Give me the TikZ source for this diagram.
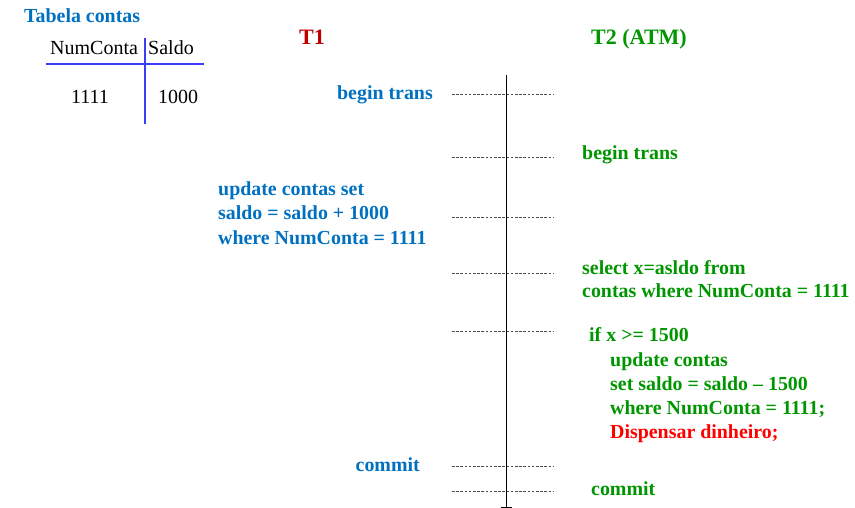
\documentclass[tikz,border=0pt]{standalone}
\usepackage{fontspec}
\setmainfont{Liberation Serif}
\definecolor{tblue}{RGB}{0,112,192}
\definecolor{tgreen}{RGB}{0,150,0}
\definecolor{tred}{RGB}{192,0,0}
\definecolor{dred}{RGB}{255,0,0}
\definecolor{lineblue}{RGB}{60,60,255}
\begin{document}
\begin{tikzpicture}[x=1pt,y=-1pt,
  txt/.style={inner sep=0pt,font=\fontsize{19.9}{24}\selectfont\bfseries},
  bl/.style={txt,text=tblue},
  gr/.style={txt,text=tgreen},
  tbl/.style={inner sep=0pt,font=\fontsize{20}{24}\selectfont},
  title/.style={inner sep=0pt,font=\fontsize{22}{26}\selectfont\bfseries},
  dashline/.style={draw=black!70,dash pattern=on 2.6pt off 1.6pt,line width=0.9pt}]
\useasboundingbox (0,0) rectangle (855,508);
% table
\node[bl,anchor=base west] (tab) at (24,23) {Tabela contas};
\node[tbl,anchor=base west] (h1) at (50,55) {NumConta};
\node[tbl,anchor=base west] (h2) at (148,55) {Saldo};
\node[tbl,anchor=base] (v1) at (90,104) {1111};
\node[tbl,anchor=base] (v2) at (178,104) {1000};
\coordinate (hl) at (46,64); \coordinate (hr) at (204,64);
\coordinate (vt) at (145,38); \coordinate (vb) at (145,124);
\draw[lineblue,line width=1.1pt] (hl) -- (hr);
\draw[lineblue,line width=1.1pt] (vt) -- (vb);
% titles
\node[title,text=tred,anchor=base] (t1) at (312,45) {T1};
\node[title,text=tgreen,anchor=base] (t2) at (639,45) {T2 (ATM)};
% timeline
\coordinate (top) at (506,75); \coordinate (bot) at (506,507);
\coordinate (bl1) at (501,507); \coordinate (br1) at (512,507);
\draw[line width=1pt] (top) -- (bot);
\draw[line width=1pt] (bl1) -- (br1);
\foreach \y/\n in {94/a,157/b,217/c,273/d,331/e,466/f,491/g}{
  \coordinate (l\n) at (452,\y); \coordinate (r\n) at (553,\y);
  \draw[dashline] (l\n) -- (r\n);
}
% T1 texts
\node[bl,anchor=base east] (bt1) at (433,100) {begin trans};
\node[bl,anchor=base west] (u1) at (218,196) {update contas set};
\node[bl,anchor=base west] (u2) at (218,220) {saldo = saldo + 1000};
\node[bl,anchor=base west] (u3) at (218,244) {where NumConta = 1111};
\node[bl,anchor=base east] (c1) at (420,471) {commit};
% T2 texts
\node[gr,anchor=base west] (bt2) at (582,160) {begin trans};
\node[gr,anchor=base west] (s1) at (582,274) {select x=asldo from};
\node[gr,anchor=base west] (s2) at (582,298) {contas where NumConta = 1111};
\node[gr,anchor=base west] (i1) at (589,341) {if x >= 1500};
\node[gr,anchor=base west] (i2) at (610,366) {update contas};
\node[gr,anchor=base west] (i3) at (610,390) {set saldo = saldo – 1500};
\node[gr,anchor=base west] (i4) at (610,414) {where NumConta = 1111;};
\node[txt,text=dred,anchor=base west] (i5) at (610,438) {Dispensar dinheiro;};
\node[gr,anchor=base west] (c2) at (591,495) {commit};
\end{tikzpicture}
\end{document}
